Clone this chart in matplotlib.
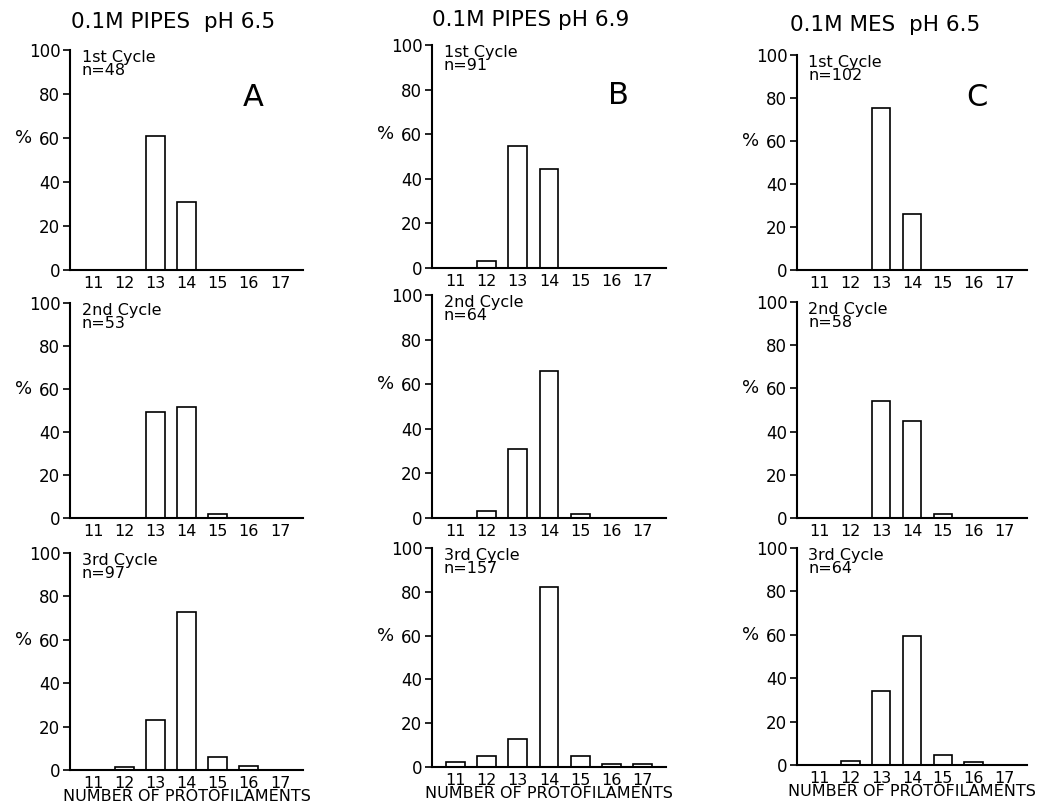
import matplotlib
matplotlib.use("Agg")
import matplotlib.pyplot as plt

# protofilament number classes
protofilaments = [11, 12, 13, 14, 15, 16, 17]

titles = ["0.1M PIPES  pH 6.5", "0.1M PIPES pH 6.9", "0.1M MES  pH 6.5"]
panel_letters = ["A", "B", "C"]
cycles = ["1st Cycle", "2nd Cycle", "3rd Cycle"]

# percent per class, one list per cycle
pipes_65 = [
    [0, 0, 61, 31, 0, 0, 0],
    [0, 0, 49.5, 51.5, 2, 0, 0],
    [0, 1.5, 23, 73, 6, 2, 0],
]
pipes_69 = [
    [0, 3, 54.5, 44.5, 0, 0, 0],
    [0, 3, 31, 66, 2, 0, 0],
    [2.5, 5, 13, 82, 5, 1.5, 1.5],
]
mes_65 = [
    [0, 0, 75.5, 26, 0, 0, 0],
    [0, 0, 54, 45, 2, 0, 0],
    [0, 2, 34, 59.5, 4.5, 1.5, 0],
]
n_pipes_65 = [48, 53, 97]
n_pipes_69 = [91, 64, 157]
n_mes_65 = [102, 58, 64]

columns = [(pipes_65, n_pipes_65), (pipes_69, n_pipes_69), (mes_65, n_mes_65)]

W, H = 1045, 808
# axes boxes in pixels: (left, right) per column, (top, bottom) per row/column
col_x = [(70, 303), (432, 666), (797, 1027)]
row_y = [
    [(50, 270), (303, 518), (553, 770)],
    [(45, 268), (295, 518), (548, 767)],
    [(55, 270), (302, 518), (548, 765)],
]
title_pos = [(173, 22), (531, 20), (885, 25)]
letter_pos = [(253, 97), (618, 95), (977, 97)]

plt.rcParams["font.family"] = ["DejaVu Sans"]
fig = plt.figure(figsize=(W / 100, H / 100), dpi=100)

for c, (vals, ns) in enumerate(columns):
    x0, x1 = col_x[c]
    for r in range(3):
        top, bot = row_y[c][r]
        ax = fig.add_axes([x0 / W, 1 - bot / H, (x1 - x0) / W, (bot - top) / H])
        ax.bar(protofilaments, vals[r], width=0.6, facecolor="white",
               edgecolor="black", linewidth=1.2)
        ax.set_xlim(10.26, 17.74)
        ax.set_ylim(0, 100)
        for s in ("top", "right"):
            ax.spines[s].set_visible(False)
        ax.spines["left"].set_linewidth(1.5)
        ax.spines["bottom"].set_linewidth(1.5)
        ax.set_xticks(protofilaments)
        ax.set_xticklabels([str(p) for p in protofilaments], fontsize=11.5)
        ax.tick_params(axis="x", length=0, pad=4)
        ax.set_yticks([0, 20, 40, 60, 80, 100])
        ax.tick_params(axis="y", length=5, width=1.2, labelsize=12, pad=2)
        ax.text(-0.2, 0.6, "%", transform=ax.transAxes, fontsize=13,
                ha="center", va="center")
        ax.text(0.05, 1.0, f"{cycles[r]}\nn={ns[r]}", transform=ax.transAxes,
                fontsize=11.5, ha="left", va="top", linespacing=0.85)
        if r == 2:
            ax.set_xlabel("NUMBER OF PROTOFILAMENTS", fontsize=11.5, labelpad=-1)
    fig.text(title_pos[c][0] / W, 1 - title_pos[c][1] / H, titles[c],
             fontsize=15.5, ha="center", va="center")
    fig.text(letter_pos[c][0] / W, 1 - letter_pos[c][1] / H, panel_letters[c],
             fontsize=22, ha="center", va="center")

fig.savefig("out.png", dpi=100)
